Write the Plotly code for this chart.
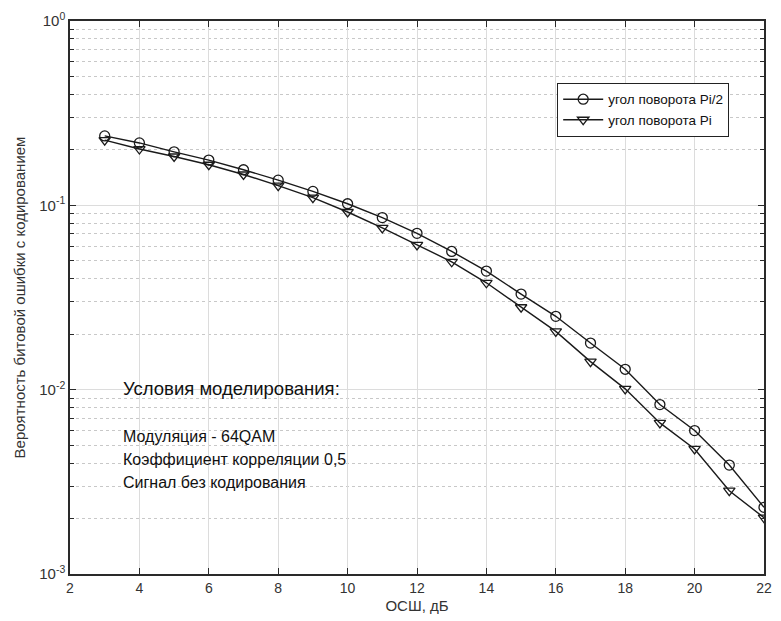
import plotly.graph_objects as go

# Отношение сигнал/шум, дБ
snr_db = list(range(3, 23))

# Вероятность битовой ошибки, угол поворота Pi/2
ber_pi_half = [0.238, 0.218, 0.195, 0.176, 0.156, 0.137, 0.119, 0.102, 0.0858, 0.0705,
               0.0562, 0.044, 0.033, 0.025, 0.0179, 0.0129, 0.0083, 0.0060, 0.0039, 0.0023]

# Вероятность битовой ошибки, угол поворота Pi
ber_pi = [0.226, 0.202, 0.184, 0.166, 0.147, 0.128, 0.110, 0.092, 0.0755, 0.061,
          0.0494, 0.038, 0.028, 0.0207, 0.0142, 0.0101, 0.0066, 0.00477, 0.00283, 0.00202]

series_names = ["угол поворота Pi/2", "угол поворота Pi"]

x_ticks = list(range(2, 23, 2))
y_major = [1e0, 1e-1, 1e-2, 1e-3]
y_major_text = ["10<sup>0</sup>", "10<sup>-1</sup>", "10<sup>-2</sup>", "10<sup>-3</sup>"]
y_minor = [m * 10.0 ** e for e in (-3, -2, -1) for m in range(2, 10)]

notes_title = "Условия моделирования:"
notes = [
    "Модуляция - 64QAM",
    "Коэффициент корреляции 0,5",
    "Сигнал без кодирования",
]

line_col = "#1a1a1a"
axis_col = "#2a2a2a"
font_family = "Liberation Sans, Arial, sans-serif"

fig = go.Figure()
fig.add_trace(go.Scatter(
    x=snr_db, y=ber_pi_half, name=series_names[0], mode="lines+markers",
    line=dict(color=line_col, width=1.4),
    marker=dict(symbol="circle-open", size=10, color=line_col, line=dict(width=1.3)),
))
fig.add_trace(go.Scatter(
    x=snr_db, y=ber_pi, name=series_names[1], mode="lines+markers",
    line=dict(color=line_col, width=1.4),
    marker=dict(symbol="triangle-down-open", size=10, color=line_col, line=dict(width=1.3)),
))

# Блок с условиями моделирования
note_x = 0.073
fig.add_annotation(
    x=note_x, y=0.336, xref="paper", yref="paper", xanchor="left", yanchor="middle",
    text=notes_title, showarrow=False, align="left",
    font=dict(family=font_family, size=18.5, color="#111"),
)
for i, line in enumerate(notes):
    fig.add_annotation(
        x=note_x, y=0.248 - i * 0.0415, xref="paper", yref="paper",
        xanchor="left", yanchor="middle", text=line, showarrow=False, align="left",
        font=dict(family=font_family, size=16, color="#111"),
    )

fig.update_layout(
    width=781, height=621,
    margin=dict(l=70, r=9, t=21, b=47),
    paper_bgcolor="white", plot_bgcolor="white",
    font=dict(family=font_family, size=14, color="#333"),
    showlegend=True,
    legend=dict(
        x=0.702, y=0.888, xanchor="left", yanchor="top",
        bgcolor="white", bordercolor="#222", borderwidth=1,
        font=dict(family=font_family, size=13.5, color="#111"),
        tracegroupgap=0, itemwidth=40,
    ),
    xaxis=dict(
        range=[2, 22], tickvals=x_ticks, ticks="inside", ticklen=6,
        tickcolor=axis_col, showline=True, linecolor=axis_col, linewidth=1.5,
        mirror="ticks", showgrid=True, gridcolor="#dcdcdc", gridwidth=1,
        zeroline=False, tickfont=dict(size=14, color="#333"),
        title=dict(text="ОСШ, дБ", font=dict(size=15, color="#333"), standoff=6),
    ),
    yaxis=dict(
        type="log", range=[-3, 0], tickvals=y_major, ticktext=y_major_text,
        ticks="inside", ticklen=6, tickcolor=axis_col,
        showline=True, linecolor=axis_col, linewidth=1.5, mirror="ticks",
        showgrid=True, gridcolor="#dcdcdc", gridwidth=1, zeroline=False,
        tickfont=dict(size=15, color="#333"),
        minor=dict(tickvals=y_minor, ticks="inside", ticklen=4, tickcolor=axis_col,
                   showgrid=True, gridcolor="#c8c8c8", griddash="dot", gridwidth=1),
        title=dict(text="Вероятность битовой ошибки с кодированием",
                   font=dict(size=15, color="#333"), standoff=10),
    ),
)

fig.write_html("out.html")
